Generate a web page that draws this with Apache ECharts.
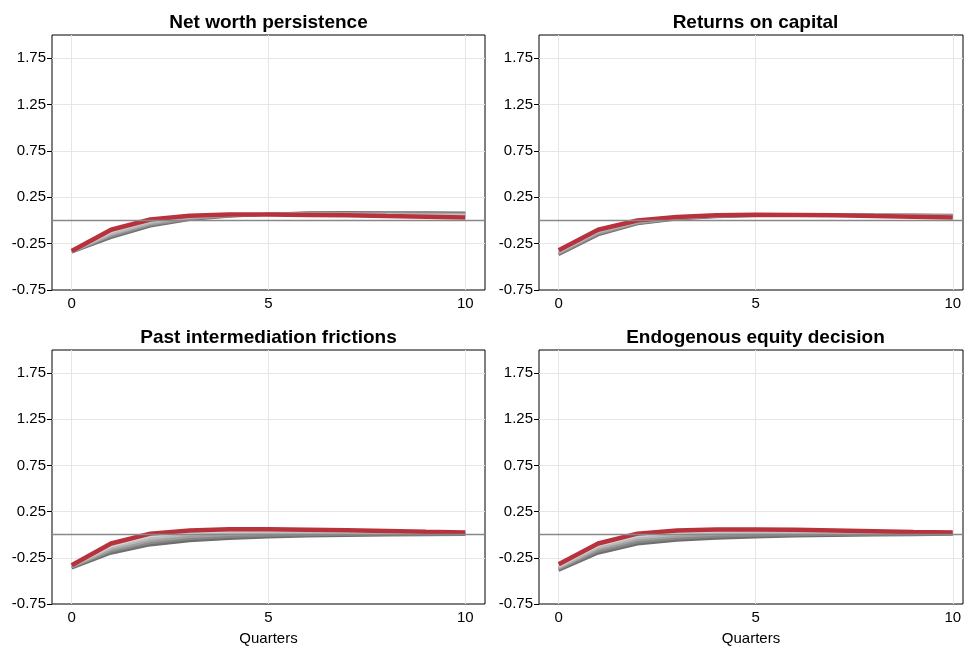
<!DOCTYPE html>
<html>
<head>
<meta charset="utf-8">
<script src="https://cdn.jsdelivr.net/npm/echarts@6/dist/echarts.min.js"></script>
<style>
  html, body { margin: 0; padding: 0; background: #fff; }
  #chart { width: 965px; height: 647px; }
</style>
</head>
<body>
<div id="chart"></div>
<script>
// Horizon (quarters after the shock)
const quarters = [0, 1, 2, 3, 4, 5, 6, 7, 8, 9, 10];

const panelTitles = [
  'Net worth persistence',
  'Returns on capital',
  'Past intermediation frictions',
  'Endogenous equity decision'
];

// Baseline impulse responses (red)
const netWorthRed   = [-0.33, -0.10, 0.010, 0.050, 0.065, 0.065, 0.060, 0.055, 0.047, 0.040, 0.033];
const returnsRed    = [-0.32, -0.10, 0.000, 0.038, 0.056, 0.062, 0.060, 0.055, 0.047, 0.040, 0.032];
const frictionsRed  = [-0.33, -0.095, 0.012, 0.047, 0.058, 0.058, 0.055, 0.048, 0.040, 0.032, 0.025];
const equityRed     = [-0.32, -0.095, 0.012, 0.045, 0.056, 0.056, 0.053, 0.046, 0.038, 0.030, 0.024];

// Alternative parameterisations (grey fan, nearest to farthest from baseline)
const netWorthGrey = [
  [-0.330, -0.120, -0.005, 0.043, 0.062, 0.066, 0.064, 0.060, 0.055, 0.050, 0.045],
  [-0.335, -0.140, -0.020, 0.035, 0.058, 0.067, 0.068, 0.066, 0.062, 0.058, 0.055],
  [-0.335, -0.155, -0.035, 0.027, 0.054, 0.067, 0.072, 0.072, 0.070, 0.067, 0.064],
  [-0.340, -0.170, -0.048, 0.018, 0.050, 0.068, 0.077, 0.078, 0.077, 0.075, 0.073],
  [-0.340, -0.185, -0.060, 0.010, 0.046, 0.068, 0.082, 0.085, 0.084, 0.082, 0.080]
];
const returnsGrey = [
  [-0.330, -0.110, -0.008, 0.033, 0.053, 0.060, 0.060, 0.056, 0.050, 0.044, 0.037],
  [-0.340, -0.120, -0.015, 0.028, 0.050, 0.058, 0.060, 0.058, 0.053, 0.048, 0.042],
  [-0.350, -0.135, -0.022, 0.024, 0.047, 0.057, 0.060, 0.059, 0.056, 0.052, 0.047],
  [-0.360, -0.145, -0.030, 0.020, 0.044, 0.056, 0.060, 0.060, 0.058, 0.055, 0.052],
  [-0.370, -0.155, -0.037, 0.015, 0.041, 0.054, 0.060, 0.061, 0.060, 0.058, 0.056]
];
const frictionsGrey = [
  [-0.335, -0.120, -0.015, 0.025, 0.040, 0.043, 0.042, 0.038, 0.033, 0.028, 0.022],
  [-0.340, -0.140, -0.040, 0.005, 0.022, 0.028, 0.030, 0.028, 0.025, 0.022, 0.019],
  [-0.345, -0.160, -0.065, -0.020, 0.003, 0.012, 0.017, 0.018, 0.017, 0.015, 0.014],
  [-0.350, -0.180, -0.088, -0.042, -0.018, -0.006, 0.001, 0.005, 0.007, 0.008, 0.009],
  [-0.360, -0.200, -0.110, -0.065, -0.040, -0.025, -0.015, -0.008, -0.003, 0.000, 0.003]
];
const equityGrey = [
  [-0.335, -0.115, -0.010, 0.025, 0.040, 0.043, 0.042, 0.038, 0.032, 0.027, 0.022],
  [-0.350, -0.135, -0.032, 0.005, 0.022, 0.028, 0.030, 0.028, 0.025, 0.021, 0.018],
  [-0.360, -0.155, -0.055, -0.017, 0.004, 0.012, 0.016, 0.017, 0.016, 0.014, 0.012],
  [-0.372, -0.178, -0.078, -0.038, -0.016, -0.006, 0.001, 0.004, 0.006, 0.007, 0.008],
  [-0.385, -0.200, -0.100, -0.060, -0.037, -0.025, -0.015, -0.008, -0.002, 0.001, 0.004]
];

const redSeries  = [netWorthRed, returnsRed, frictionsRed, equityRed];
const greySeries = [netWorthGrey, returnsGrey, frictionsGrey, equityGrey];

// Y axis ticks and range
const yMin = -0.75, yMax = 2.0, yStep = 0.5;

// Layout of the 2x2 panels (right column is clipped by the canvas edge)
const panelBoxes = [
  { left: 52,  top: 35,  width: 433, height: 255, xMax: 10.5 },
  { left: 539, top: 35,  width: 424, height: 255, xMax: 10.26 },
  { left: 52,  top: 350, width: 433, height: 255, xMax: 10.5 },
  { left: 539, top: 350, width: 424, height: 255, xMax: 10.26 }
];
const fullPanelWidth = 433;
const greyColours = ['#d2d2d2', '#b9b9b9', '#a0a0a0', '#878787', '#6e6e6e'];
const redColour = '#b8323d';
const font = 'Liberation Sans, Arial, Helvetica, sans-serif';

const grids = [], xAxes = [], yAxes = [], titles = [], series = [];

panelBoxes.forEach((b, i) => {
  grids.push({
    left: b.left, top: b.top, width: b.width, height: b.height,
    show: true, borderColor: '#000', borderWidth: 1, backgroundColor: 'transparent'
  });
  titles.push({
    text: panelTitles[i],
    left: b.left + fullPanelWidth / 2,
    top: b.top - 22,
    textAlign: 'center',
    padding: 0,
    textStyle: { fontFamily: font, fontSize: 19, fontWeight: 'bold', color: '#000' }
  });
  const bottomRow = i >= 2;
  xAxes.push({
    type: 'value', gridIndex: i, min: -0.5, max: b.xMax, splitNumber: 2,
    name: bottomRow ? 'Quarters' : '',
    nameLocation: 'middle', nameGap: 27,
    nameTextStyle: { fontFamily: font, fontSize: 15, color: '#000' },
    axisLine: { show: false, onZero: false },
    axisTick: { show: false },
    axisLabel: {
      fontFamily: font, fontSize: 15, color: '#000', margin: 6,
      showMinLabel: false, showMaxLabel: false,
      formatter: v => (Number.isInteger(v) ? String(v) : '')
    },
    splitLine: { show: true, showMinLine: false, showMaxLine: false,
                 lineStyle: { color: '#e6e6e6', width: 1 } }
  });
  yAxes.push({
    type: 'value', gridIndex: i, min: yMin, max: yMax, interval: yStep,
    axisLine: { show: false, onZero: false },
    axisTick: { show: true, length: 5, lineStyle: { color: '#000', width: 1 } },
    axisLabel: {
      fontFamily: font, fontSize: 15, color: '#000', margin: 6,
      showMaxLabel: false,
      formatter: v => v.toFixed(2)
    },
    splitLine: { show: true, showMinLine: false, showMaxLine: false,
                 lineStyle: { color: '#e6e6e6', width: 1 } }
  });

  // grey fan: farthest (dark) first so lighter lines sit on top
  const fan = greySeries[i];
  for (let k = fan.length - 1; k >= 0; k--) {
    const s = {
      type: 'line', xAxisIndex: i, yAxisIndex: i,
      data: quarters.map((q, j) => [q, fan[k][j]]),
      showSymbol: false, silent: true, animation: false,
      lineStyle: { color: greyColours[k], width: 3 },
      z: 3
    };
    if (k === fan.length - 1) {
      s.markLine = {
        silent: true, symbol: 'none', animation: false,
        label: { show: false },
        lineStyle: { color: '#888888', width: 1.3, type: 'solid' },
        data: [{ yAxis: 0 }]
      };
    }
    series.push(s);
  }
  series.push({
    type: 'line', xAxisIndex: i, yAxisIndex: i,
    data: quarters.map((q, j) => [q, redSeries[i][j]]),
    showSymbol: false, silent: true, animation: false,
    lineStyle: { color: redColour, width: 4.5 },
    z: 4
  });
});

const chart = echarts.init(document.getElementById('chart'), null, { renderer: 'canvas' });
chart.setOption({
  animation: false,
  backgroundColor: '#fff',
  title: titles,
  grid: grids,
  xAxis: xAxes,
  yAxis: yAxes,
  series: series
});
</script>
</body>
</html>
